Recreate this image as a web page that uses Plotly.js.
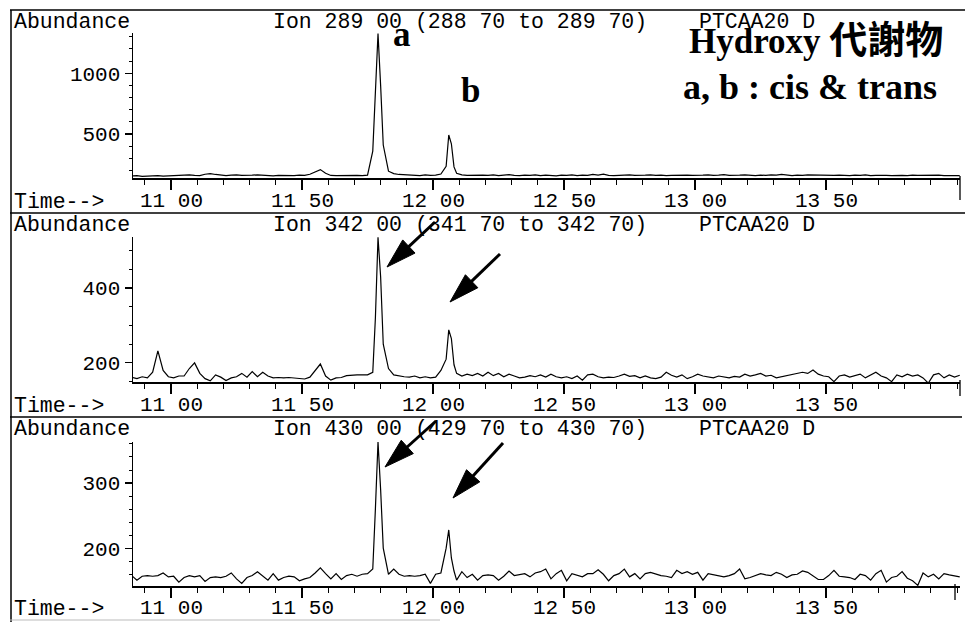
<!DOCTYPE html>
<html><head><meta charset="utf-8">
<script src="https://cdn.plot.ly/plotly-3.0.1.min.js"></script>
<style>html,body{margin:0;padding:0;background:#fff}</style>
</head><body><div id="chart" style="width:965px;height:622px"></div>
<script>
// ---- data (retention time in minutes, abundance) ----
const times = [
10.85,10.87,10.89,10.91,10.93,10.95,10.97,10.99,11.01,11.03,
11.05,11.07,11.09,11.11,11.13,11.15,11.17,11.19,11.21,11.23,
11.25,11.27,11.29,11.31,11.33,11.35,11.37,11.39,11.41,11.43,
11.45,11.47,11.49,11.51,11.53,11.55,11.57,11.59,11.61,11.63,
11.65,11.67,11.69,11.71,11.73,11.75,11.77,11.78,11.79,11.80,
11.81,11.83,11.85,11.87,11.89,11.91,11.93,11.95,11.97,11.99,
12.01,12.03,12.05,12.06,12.07,12.08,12.09,12.11,12.13,12.15,
12.17,12.19,12.21,12.23,12.25,12.27,12.29,12.31,12.33,12.35,
12.37,12.39,12.41,12.43,12.45,12.47,12.49,12.51,12.53,12.55,
12.57,12.59,12.61,12.63,12.65,12.67,12.69,12.71,12.73,12.75,
12.77,12.79,12.81,12.83,12.85,12.87,12.89,12.91,12.93,12.95,
12.97,12.99,13.01,13.03,13.05,13.07,13.09,13.11,13.13,13.15,
13.17,13.19,13.21,13.23,13.25,13.27,13.29,13.31,13.33,13.35,
13.37,13.39,13.41,13.43,13.45,13.47,13.49,13.51,13.53,13.55,
13.57,13.59,13.61,13.63,13.65,13.67,13.69,13.71,13.73,13.75,
13.77,13.79,13.81,13.83,13.85,13.87,13.89,13.91,13.93,13.95,
13.97,13.99,14.01];

const ion289 = [
155,158,152,156,160,158,155,157,160,162,
158,165,160,158,170,175,168,160,158,162,
165,160,158,162,165,160,158,156,160,158,
155,158,162,160,170,190,208,178,160,158,
160,162,158,160,158,162,360,900,1325,900,
410,195,175,168,165,160,162,158,165,160,
162,172,235,492,420,230,178,165,160,162,
158,163,160,165,158,162,166,160,158,163,
160,165,158,162,160,157,163,160,165,158,
162,160,168,163,170,160,158,162,160,165,
160,158,162,165,160,163,158,160,162,158,
163,160,158,162,165,160,162,166,160,158,
162,165,160,158,163,160,165,162,168,160,
158,162,160,165,163,160,158,162,160,163,
160,158,162,160,165,158,160,163,160,158,
162,160,158,163,160,162,158,160,162,158,
160,162,158];

const ion342 = [
162,158,163,160,175,232,180,163,160,165,
165,185,200,172,158,152,168,162,153,160,
163,172,162,177,163,175,165,160,161,160,
161,160,158,157,162,180,197,165,154,160,
161,166,168,168,168,168,175,320,535,430,
250,185,168,165,163,162,165,160,163,160,
162,180,210,288,265,195,172,165,170,166,
172,165,175,166,172,163,170,165,160,162,
166,163,168,162,170,163,160,163,158,165,
154,168,170,163,160,162,161,165,170,164,
166,160,165,160,158,162,175,167,162,168,
158,163,170,165,163,160,165,162,160,164,
162,170,165,168,172,165,167,160,163,165,
170,172,175,172,181,170,165,163,150,165,
168,162,166,170,160,168,175,165,160,150,
168,163,170,165,168,160,146,168,172,160,
168,162,167];

const ion430 = [
158,151,157,158,157,158,162,156,157,148,
155,158,156,158,149,155,156,155,157,162,
153,146,155,158,164,158,151,161,151,155,
157,156,150,153,155,162,170,161,153,161,
152,158,160,157,160,161,168,260,363,290,
200,160,168,160,157,158,157,158,160,146,
160,162,200,228,185,165,151,164,155,160,
151,158,159,158,151,157,165,158,160,161,
156,162,164,168,153,161,166,150,161,158,
156,161,161,167,160,150,158,161,168,156,
161,153,161,163,160,158,157,155,166,161,
164,160,163,151,161,159,158,156,158,161,
168,153,155,158,161,159,158,163,160,155,
159,160,165,163,157,152,152,158,166,157,
156,155,152,160,158,151,161,166,148,155,
157,164,154,150,143,162,156,160,153,161,
159,158,156];

const xTickVals = [11.0, 11.5, 12.0, 12.5, 13.0, 13.5];
const xTickText = ["11 00", "11 50", "12 00", "12 50", "13 00", "13 50"];
const xMinorVals = [10.9,11.1,11.2,11.3,11.4,11.6,11.7,11.8,11.9,12.1,12.2,12.3,12.4,12.6,12.7,12.8,12.9,13.1,13.2,13.3,13.4,13.6,13.7,13.8,13.9,14.0];
const y1Ticks = [500, 1000];
const y1Minor = [200, 300, 400, 600, 700, 800, 900, 1100, 1200, 1300];
const y2Ticks = [200, 400];
const y2Minor = [150, 250, 300, 350, 450, 500];
const y3Ticks = [200, 300];
const y3Minor = [160, 180, 220, 240, 260, 280, 320, 340, 360];
const ionTitles = ["Ion 289 00 (288 70 to 289 70)", "Ion 342 00 (341 70 to 342 70)", "Ion 430 00 (429 70 to 430 70)"];
const fileName = "PTCAA20 D";
const yLabel = "Abundance";
const xLabel = "Time-->";
const titleWord = "Hydroxy";
const titleCJK = "代謝物";
const titleLine2 = "a, b : cis & trans";
const peakLabels = ["a", "b"];

// ---- layout helpers (pixels -> paper) ----
const W = 965, H = 622;
const px = v => v / W;
const py = v => 1 - v / H;
const MONO = "Liberation Mono, Courier New, monospace";
const SERIF = "Liberation Serif, Times New Roman, Noto Sans CJK TC, serif";

function xa(anchor) {
  return {
    domain: [px(133), px(960)], range: [10.855, 14.011], anchor: anchor,
    showline: true, linecolor: '#000', linewidth: 1.5,
    ticks: 'outside', ticklen: 10, tickwidth: 1.3, tickcolor: '#000',
    tickmode: 'array', tickvals: xTickVals, ticktext: xTickText, showticklabels: false,
    minor: {tickmode: 'array', tickvals: xMinorVals, ticks: 'outside', ticklen: 5, tickwidth: 1, tickcolor: '#000', showgrid: false},
    showgrid: false, zeroline: false, fixedrange: true, automargin: false
  };
}
function ya(anchor, top, bottom, range, tv, mv) {
  return {
    domain: [py(bottom), py(top)], range: range, anchor: anchor,
    showline: true, linecolor: '#000', linewidth: 1.5,
    ticks: 'outside', ticklen: 7, tickwidth: 1.2, tickcolor: '#000',
    tickmode: 'array', tickvals: tv, ticktext: tv.map(String),
    tickfont: {family: MONO, size: 21, color: '#000'},
    minor: {tickmode: 'array', tickvals: mv, ticks: 'outside', ticklen: 3, tickwidth: 1, tickcolor: '#000', showgrid: false},
    showgrid: false, zeroline: false, fixedrange: true, automargin: false
  };
}

const lineStyle = {color: '#000', width: 1.2};
const data = [
  {x: times, y: ion289, xaxis: 'x', yaxis: 'y', mode: 'lines', line: lineStyle, hoverinfo: 'skip'},
  {x: times, y: ion342, xaxis: 'x2', yaxis: 'y2', mode: 'lines', line: lineStyle, hoverinfo: 'skip'},
  {x: times, y: ion430, xaxis: 'x3', yaxis: 'y3', mode: 'lines', line: lineStyle, hoverinfo: 'skip'}
];

const ann = [];
function txt(t, x, y, xanchor, font) {
  ann.push({text: t, x: px(x), y: py(y), xref: 'paper', yref: 'paper', xanchor: xanchor, yanchor: 'middle', showarrow: false, font: font});
}
const monoFont = {family: MONO, size: 21.5, color: '#000'};
const topY = [22, 225, 428.5];
const timeY = [202, 406, 609];
const xRefs = ['x', 'x2', 'x3'];
for (let i = 0; i < 3; i++) {
  txt(yLabel, 12, topY[i], 'left', monoFont);
  txt(ionTitles[i], 271, topY[i], 'left', monoFont);
  txt(fileName, 697, topY[i], 'left', monoFont);
  txt(xLabel, 12, timeY[i], 'left', monoFont);
  // x tick labels, placed on the data axis
  xTickVals.forEach((v, k) => {
    ann.push({text: xTickText[k], x: v, xref: xRefs[i], y: py(timeY[i] - 1), yref: 'paper',
      xanchor: 'center', yanchor: 'middle', showarrow: false, font: {family: MONO, size: 21, color: '#000'}});
  });
}
const bigFont = {family: SERIF, size: 35, color: '#000'};
txt('<b>' + titleWord + ' <span style="font-family:Noto Sans CJK TC;font-size:38px">' + titleCJK + '</span></b>', 945, 37, 'right', bigFont);
txt('<b>' + titleLine2.replace('&', '&amp;') + '</b>', 939, 87, 'right', {family: SERIF, size: 36, color: '#000'});
txt('<b>' + peakLabels[0] + '</b>', 402, 35, 'center', bigFont);
txt('<b>' + peakLabels[1] + '</b>', 470, 91, 'center', bigFont);

const shapes = [];
function seg(x0, y0, x1, y1, w, c) {
  shapes.push({type: 'line', xref: 'paper', yref: 'paper', x0: px(x0), y0: py(y0), x1: px(x1), y1: py(y1), line: {color: c || '#000', width: w}});
}
seg(10, 10, 965, 10, 1.5);
seg(10, 213, 965, 213, 1.5);
seg(10, 417, 962, 417, 1.5);
seg(11, 10, 11, 622, 1.5);
seg(10, 620, 440, 620, 1, '#bbb');
// axis end ticks
seg(960, 176, 960, 200, 1.3);
seg(960, 380, 960, 396, 1.3);
seg(955, 584, 955, 600, 1.3);

function arrow(tx, ty, sx, sy) {
  const dx = tx - sx, dy = ty - sy, L = Math.hypot(dx, dy);
  const ux = dx / L, uy = dy / L, hl = 30, hw = 9;
  const bx = tx - ux * hl, by = ty - uy * hl;
  const nx = -uy, ny = ux;
  seg(sx, sy, bx + ux * 2, by + uy * 2, 3);
  const p = [[tx, ty], [bx + nx * hw, by + ny * hw], [bx - nx * hw, by - ny * hw]];
  shapes.push({type: 'path', xref: 'paper', yref: 'paper',
    path: 'M' + p.map(q => px(q[0]) + ',' + py(q[1])).join(' L') + ' Z',
    fillcolor: '#000', line: {color: '#000', width: 1}});
}
arrow(387, 267, 435, 222);
arrow(450, 302, 500, 254);
arrow(385, 467, 436, 421);
arrow(453, 498, 503, 443);

const layout = {
  width: W, height: H, margin: {l: 0, r: 0, t: 0, b: 0},
  paper_bgcolor: '#fff', plot_bgcolor: '#fff', showlegend: false,
  xaxis: xa('y'), xaxis2: xa('y2'), xaxis3: xa('y3'),
  yaxis: ya('x', 33, 178, [139, 1330], y1Ticks, y1Minor),
  yaxis2: ya('x2', 237, 382, [149, 536], y2Ticks, y2Minor),
  yaxis3: ya('x3', 442, 586, [142, 363], y3Ticks, y3Minor),
  annotations: ann, shapes: shapes
};
Plotly.newPlot('chart', data, layout, {displayModeBar: false, staticPlot: true});
</script></body></html>
